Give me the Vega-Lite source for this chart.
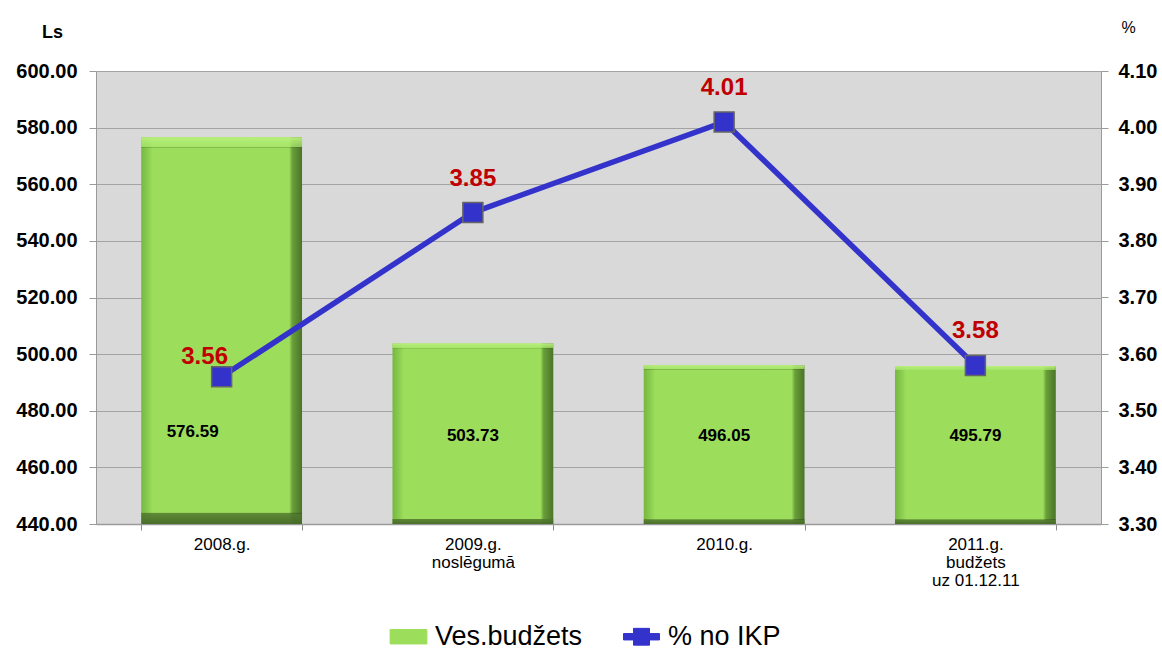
{
  "$schema": "https://vega.github.io/schema/vega-lite/v6.json",
  "width": 1005,
  "height": 453,
  "autosize": {"type": "none"},
  "padding": {"left": 96, "top": 71, "right": 61, "bottom": 127},
  "background": "white",
  "config": {
    "font": "Liberation Sans",
    "view": {"fill": "#D9D9D9", "stroke": null}
  },
  "data": {
    "values": [
      {"period": "2008.g.", "budget": 576.59, "pct": 3.56},
      {"period": "2009.g.|noslēgumā", "budget": 503.73, "pct": 3.85},
      {"period": "2010.g.", "budget": 496.05, "pct": 4.01},
      {"period": "2011.g.|budžets|uz 01.12.11", "budget": 495.79, "pct": 3.58}
    ]
  },
  "encoding": {
    "x": {
      "field": "period",
      "type": "nominal",
      "sort": null,
      "scale": {"paddingInner": 0.36, "paddingOuter": 0.18},
      "axis": {
        "title": null,
        "labelAngle": 0,
        "labelExpr": "split(datum.label, '|')",
        "labelFontSize": 17,
        "labelLineHeight": 18,
        "labelColor": "#000000",
        "labelPadding": 6,
        "tickBand": "extent",
        "tickSize": 6,
        "tickColor": "#8c8c8c",
        "domainColor": "#9a9a9a",
        "domainWidth": 1.5,
        "grid": false
      }
    }
  },
  "layer": [
    {
      "layer": [
        {
          "mark": {
            "type": "bar",
            "fill": {
              "gradient": "linear", "x1": 0, "x2": 1, "y1": 0, "y2": 0,
              "stops": [
                {"offset": 0, "color": "#76B840"},
                {"offset": 0.05, "color": "#8FD152"},
                {"offset": 0.07, "color": "#9CDE5B"},
                {"offset": 0.92, "color": "#9CDE5B"},
                {"offset": 0.94, "color": "#6A9F3A"},
                {"offset": 1, "color": "#4A7428"}
              ]
            }
          },
          "encoding": {
            "y": {
              "field": "budget",
              "type": "quantitative",
              "scale": {"domain": [440, 600], "zero": false, "nice": false},
              "axis": {
                "values": [440, 460, 480, 500, 520, 540, 560, 580, 600],
                "format": ".2f",
                "labelFontSize": 20,
                "labelFontWeight": "bold",
                "labelColor": "#000000",
                "labelPadding": 12,
                "tickSize": 7,
                "tickColor": "#9a9a9a",
                "domainColor": "#9a9a9a",
                "gridColor": "#a3a3a3",
                "grid": true,
                "title": "Ls",
                "titleAngle": 0,
                "titleX": -44,
                "titleY": -39,
                "titleAlign": "center",
                "titleBaseline": "middle",
                "titleFontSize": 18,
                "titleFontWeight": "bold",
                "titleColor": "#000000"
              }
            },
            "y2": {"datum": 440}
          }
        },
        {
          "mark": {
            "type": "bar",
            "fill": {
              "gradient": "linear", "x1": 0, "x2": 0, "y1": 0, "y2": 1,
              "stops": [
                {"offset": 0, "color": "rgba(185,240,125,0.95)"},
                {"offset": 0.024, "color": "rgba(170,232,110,0.7)"},
                {"offset": 0.028, "color": "rgba(0,0,0,0)"},
                {"offset": 0.97, "color": "rgba(0,0,0,0)"},
                {"offset": 0.974, "color": "rgba(80,120,45,0.85)"},
                {"offset": 1, "color": "rgba(70,105,40,0.95)"}
              ]
            }
          },
          "encoding": {
            "y": {"field": "budget", "type": "quantitative"},
            "y2": {"datum": 440}
          }
        },
        {
          "transform": [{"filter": "datum.period === '2008.g.'"}],
          "mark": {"type": "text", "fontSize": 17, "fontWeight": "bold", "color": "#000000", "dx": -29, "baseline": "middle"},
          "encoding": {
            "y": {"datum": 472.5},
            "text": {"field": "budget", "type": "quantitative", "format": ".2f"}
          }
        },
        {
          "transform": [{"filter": "datum.period !== '2008.g.'"}],
          "mark": {"type": "text", "fontSize": 17, "fontWeight": "bold", "color": "#000000", "baseline": "middle"},
          "encoding": {
            "y": {"datum": 471},
            "text": {"field": "budget", "type": "quantitative", "format": ".2f"}
          }
        }
      ]
    },
    {
      "layer": [
        {
          "mark": {
            "type": "line",
            "strokeWidth": 5.5,
            "point": {"shape": "square", "size": 400, "filled": true, "stroke": "#666666", "strokeWidth": 1.5, "opacity": 1}
          },
          "encoding": {
            "y": {
              "field": "pct",
              "type": "quantitative",
              "scale": {"domain": [3.3, 4.1], "zero": false, "nice": false},
              "axis": {
                "orient": "right",
                "values": [3.3, 3.4, 3.5, 3.6, 3.7, 3.8, 3.9, 4.0, 4.1],
                "format": ".2f",
                "labelFontSize": 20,
                "labelFontWeight": "bold",
                "labelColor": "#000000",
                "labelPadding": 10,
                "tickSize": 7,
                "tickColor": "#9a9a9a",
                "domainColor": "#9a9a9a",
                "grid": false,
                "title": "%",
                "titleAngle": 0,
                "titleX": 27,
                "titleY": -44,
                "titleAlign": "center",
                "titleBaseline": "middle",
                "titleFontSize": 16,
                "titleFontWeight": "normal",
                "titleColor": "#000000"
              }
            },
            "color": {
              "datum": "% no IKP",
              "type": "nominal",
              "scale": {"domain": ["Ves.budžets", "% no IKP"], "range": ["#9CDE5B", "#3333CC"]},
              "legend": {
                "orient": "none",
                "legendX": 292,
                "legendY": 545,
                "direction": "horizontal",
                "title": null,
                "labelFontSize": 27,
                "labelColor": "#000000",
                "labelOffset": 6,
                "labelLimit": 300,
                "columnPadding": 38,
                "symbolSize": 1600,
                "symbolType": "square",
                "encode": {
                  "symbols": {
                    "update": {
                      "shape": {"signal": "datum.value === 'Ves.budžets' ? 'M-0.92,-0.36H0.92V0.36H-0.92Z' : 'M-0.9,-0.16H-0.4V-0.42H0.4V-0.16H0.9V0.16H0.4V0.42H-0.4V0.16H-0.9Z'"},
                      "fill": {"signal": "datum.value === 'Ves.budžets' ? '#8CCF50' : '#3333CC'"},
                      "stroke": {"signal": "datum.value === 'Ves.budžets' ? '#4E7A2A' : '#3333CC'"},
                      "strokeWidth": {"value": 1},
                      "opacity": {"value": 1},
                      "fillOpacity": {"value": 1}
                    }
                  }
                }
              }
            }
          }
        },
        {
          "transform": [{"filter": "datum.period === '2008.g.'"}],
          "mark": {"type": "text", "fontSize": 24, "fontWeight": "bold", "color": "#C00000", "dx": -17, "dy": -20, "baseline": "middle"},
          "encoding": {
            "y": {"field": "pct", "type": "quantitative"},
            "text": {"field": "pct", "type": "quantitative", "format": ".2f"}
          }
        },
        {
          "transform": [{"filter": "datum.period !== '2008.g.'"}],
          "mark": {"type": "text", "fontSize": 24, "fontWeight": "bold", "color": "#C00000", "dy": -34, "baseline": "middle"},
          "encoding": {
            "y": {"field": "pct", "type": "quantitative"},
            "text": {"field": "pct", "type": "quantitative", "format": ".2f"}
          }
        }
      ]
    }
  ],
  "resolve": {"scale": {"y": "independent"}}
}
